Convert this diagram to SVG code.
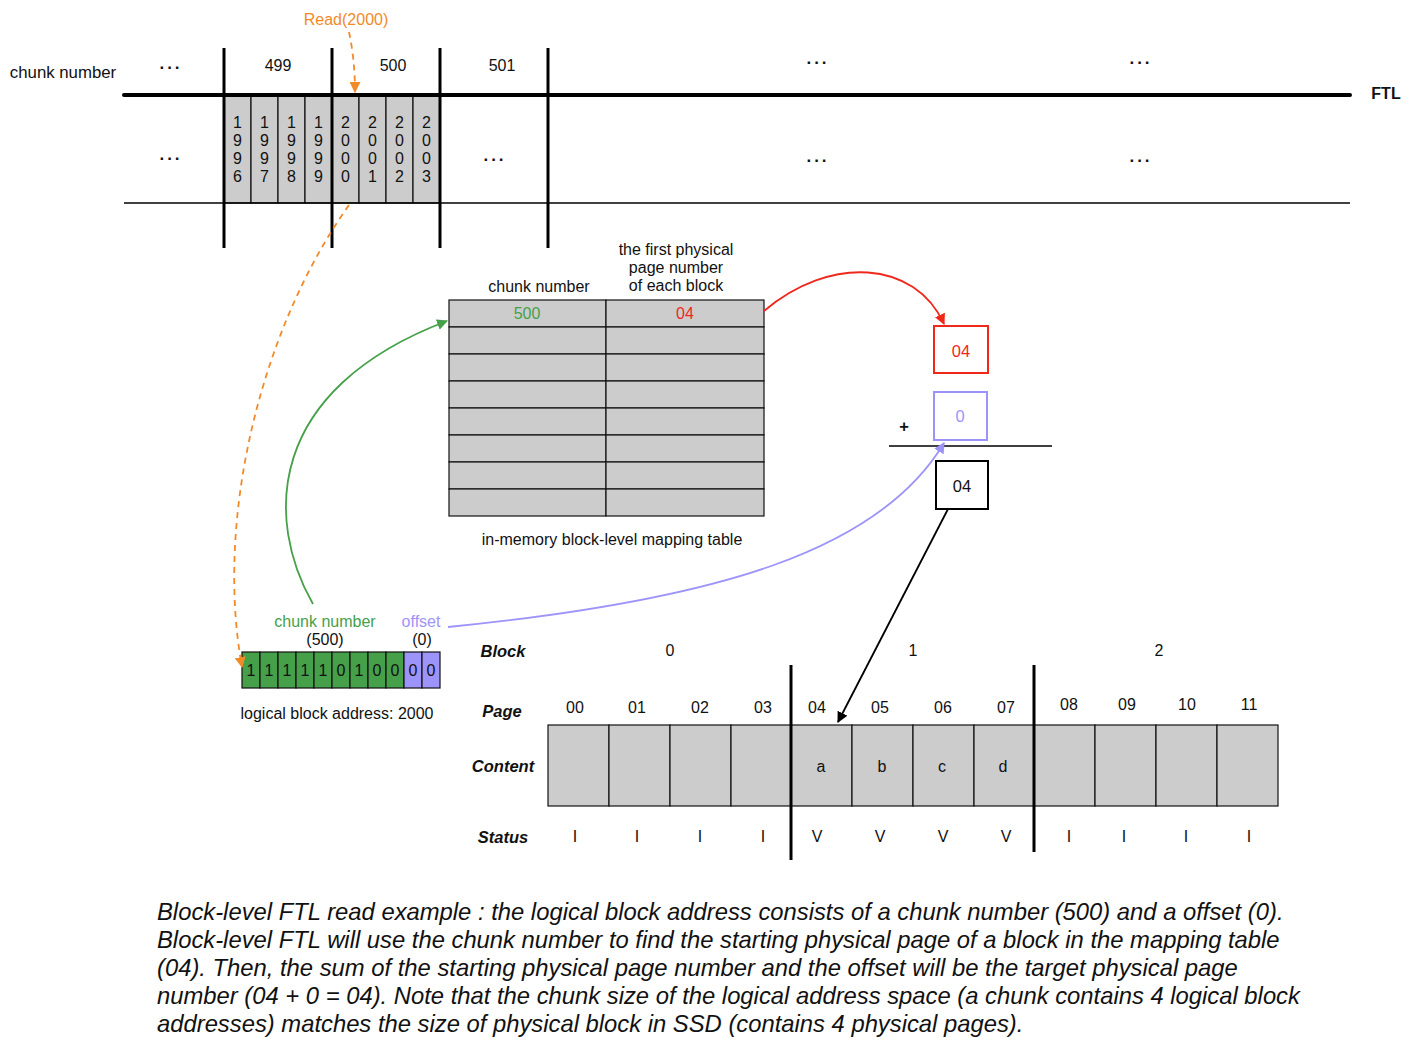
<svg xmlns="http://www.w3.org/2000/svg" width="1411" height="1048" viewBox="0 0 1411 1048">
<style>
text{font-family:"Liberation Sans",Arial,sans-serif;fill:#111;}
.t15{font-size:16px;text-anchor:middle;}
.t16{font-size:16.5px;text-anchor:middle;}
.bi{font-size:16.5px;font-weight:bold;font-style:italic;text-anchor:middle;}
.dots{font-size:17px;font-weight:bold;text-anchor:middle;letter-spacing:3px;}
.cell{fill:#cccccc;stroke:#111;stroke-width:1.2;}
.thick{stroke:#000;stroke-width:3;}
.cap{font-size:23.8px;font-style:italic;}
</style>
<defs>
<marker id="aO" viewBox="0 0 10 10" refX="9" refY="5" markerWidth="11" markerHeight="11" markerUnits="userSpaceOnUse" orient="auto"><path d="M0,0 L10,5 L0,10 z" fill="#F28A2A"/></marker>
<marker id="aR" viewBox="0 0 10 10" refX="9" refY="5" markerWidth="11" markerHeight="11" markerUnits="userSpaceOnUse" orient="auto"><path d="M0,0 L10,5 L0,10 z" fill="#F0281C"/></marker>
<marker id="aG" viewBox="0 0 10 10" refX="9" refY="5" markerWidth="11" markerHeight="11" markerUnits="userSpaceOnUse" orient="auto"><path d="M0,0 L10,5 L0,10 z" fill="#46A049"/></marker>
<marker id="aP" viewBox="0 0 10 10" refX="9" refY="5" markerWidth="11" markerHeight="11" markerUnits="userSpaceOnUse" orient="auto"><path d="M0,0 L10,5 L0,10 z" fill="#9D94FA"/></marker>
<marker id="aK" viewBox="0 0 10 10" refX="9" refY="5" markerWidth="11" markerHeight="11" markerUnits="userSpaceOnUse" orient="auto"><path d="M0,0 L10,5 L0,10 z" fill="#000"/></marker>
</defs>
<rect width="1411" height="1048" fill="#fff"/>

<g id="ftl-strip">
<text x="63" y="78" style="font-size:16.8px;text-anchor:middle">chunk number</text>
<g class="cell">
<rect x="224" y="95" width="27" height="108"/><rect x="251" y="95" width="27" height="108"/>
<rect x="278" y="95" width="27" height="108"/><rect x="305" y="95" width="27" height="108"/>
<rect x="332" y="95" width="27" height="108"/><rect x="359" y="95" width="27" height="108"/>
<rect x="386" y="95" width="27" height="108"/><rect x="413" y="95" width="27" height="108"/>
</g>
<line x1="124" y1="95" x2="1350" y2="95" stroke="#000" stroke-width="4" stroke-linecap="round"/>
<line x1="124" y1="203" x2="1350" y2="203" stroke="#000" stroke-width="1.5"/>
<line x1="224" y1="48" x2="224" y2="248" class="thick"/>
<line x1="332" y1="48" x2="332" y2="248" class="thick"/>
<line x1="440" y1="48" x2="440" y2="248" class="thick"/>
<line x1="548" y1="48" x2="548" y2="248" class="thick"/>
<text x="278" y="71" class="t15">499</text>
<text x="393" y="71" class="t15">500</text>
<text x="502" y="71" class="t15">501</text>
<text x="1386" y="99" class="t15" style="font-weight:bold">FTL</text>
<text x="171" y="69" class="dots">...</text>
<text x="171" y="160" class="dots">...</text>
<text x="495" y="161" class="dots">...</text>
<text x="818" y="64" class="dots">...</text>
<text x="818" y="162" class="dots">...</text>
<text x="1141" y="64" class="dots">...</text>
<text x="1141" y="162" class="dots">...</text>
<g class="t15">
<text x="237.5" y="128">1</text><text x="237.5" y="146">9</text><text x="237.5" y="164">9</text><text x="237.5" y="182">6</text>
<text x="264.5" y="128">1</text><text x="264.5" y="146">9</text><text x="264.5" y="164">9</text><text x="264.5" y="182">7</text>
<text x="291.5" y="128">1</text><text x="291.5" y="146">9</text><text x="291.5" y="164">9</text><text x="291.5" y="182">8</text>
<text x="318.5" y="128">1</text><text x="318.5" y="146">9</text><text x="318.5" y="164">9</text><text x="318.5" y="182">9</text>
<text x="345.5" y="128">2</text><text x="345.5" y="146">0</text><text x="345.5" y="164">0</text><text x="345.5" y="182">0</text>
<text x="372.5" y="128">2</text><text x="372.5" y="146">0</text><text x="372.5" y="164">0</text><text x="372.5" y="182">1</text>
<text x="399.5" y="128">2</text><text x="399.5" y="146">0</text><text x="399.5" y="164">0</text><text x="399.5" y="182">2</text>
<text x="426.5" y="128">2</text><text x="426.5" y="146">0</text><text x="426.5" y="164">0</text><text x="426.5" y="182">3</text>
</g>
<text x="346" y="25" class="t15" style="fill:#F28A2A">Read(2000)</text>
</g>

<g id="mapping-table">
<text x="539" y="292" class="t15">chunk number</text>
<text x="676" y="255" class="t15">the first physical</text>
<text x="676" y="273" class="t15">page number</text>
<text x="676" y="291" class="t15">of each block</text>
<g class="cell">
<rect x="449" y="300" width="157" height="27"/><rect x="606" y="300" width="158" height="27"/>
<rect x="449" y="327" width="157" height="27"/><rect x="606" y="327" width="158" height="27"/>
<rect x="449" y="354" width="157" height="27"/><rect x="606" y="354" width="158" height="27"/>
<rect x="449" y="381" width="157" height="27"/><rect x="606" y="381" width="158" height="27"/>
<rect x="449" y="408" width="157" height="27"/><rect x="606" y="408" width="158" height="27"/>
<rect x="449" y="435" width="157" height="27"/><rect x="606" y="435" width="158" height="27"/>
<rect x="449" y="462" width="157" height="27"/><rect x="606" y="462" width="158" height="27"/>
<rect x="449" y="489" width="157" height="27"/><rect x="606" y="489" width="158" height="27"/>
</g>
<text x="527" y="319" class="t15" style="fill:#46A049">500</text>
<text x="685" y="319" class="t15" style="fill:#F0281C">04</text>
<text x="612" y="545" class="t15">in-memory block-level mapping table</text>
</g>

<g id="sum">
<rect x="934" y="326" width="54" height="47" fill="#fff" stroke="#F0281C" stroke-width="2"/>
<text x="961" y="357" class="t16" style="fill:#F0281C">04</text>
<rect x="934" y="392" width="53" height="48" fill="#fff" stroke="#9D94FA" stroke-width="2"/>
<text x="960" y="422" class="t16" style="fill:#9D94FA">0</text>
<text x="904" y="432" class="t16" style="font-weight:bold">+</text>
<line x1="889" y1="446" x2="1052" y2="446" stroke="#000" stroke-width="1.5"/>
<rect x="936" y="461" width="52" height="48" fill="#fff" stroke="#000" stroke-width="2"/>
<text x="962" y="492" class="t16">04</text>
</g>

<g id="lba">
<g stroke="#111" stroke-width="1.2">
<rect x="242" y="652" width="18" height="36" fill="#46A049"/><rect x="260" y="652" width="18" height="36" fill="#46A049"/>
<rect x="278" y="652" width="18" height="36" fill="#46A049"/><rect x="296" y="652" width="18" height="36" fill="#46A049"/>
<rect x="314" y="652" width="18" height="36" fill="#46A049"/><rect x="332" y="652" width="18" height="36" fill="#46A049"/>
<rect x="350" y="652" width="18" height="36" fill="#46A049"/><rect x="368" y="652" width="18" height="36" fill="#46A049"/>
<rect x="386" y="652" width="18" height="36" fill="#46A049"/>
<rect x="404" y="652" width="18" height="36" fill="#9D94FA"/><rect x="422" y="652" width="18" height="36" fill="#9D94FA"/>
</g>
<g class="t15">
<text x="251" y="676">1</text><text x="269" y="676">1</text><text x="287" y="676">1</text><text x="305" y="676">1</text>
<text x="323" y="676">1</text><text x="341" y="676">0</text><text x="359" y="676">1</text><text x="377" y="676">0</text>
<text x="395" y="676">0</text><text x="413" y="676">0</text><text x="431" y="676">0</text>
</g>
<text x="325" y="627" class="t15" style="fill:#46A049">chunk number</text>
<text x="325" y="645" class="t15">(500)</text>
<text x="421" y="627" class="t15" style="fill:#9D94FA">offset</text>
<text x="422" y="645" class="t15">(0)</text>
<text x="337" y="719" class="t15">logical block address: 2000</text>
</g>

<g id="ssd">
<text x="503" y="657" class="bi">Block</text>
<text x="502" y="717" class="bi">Page</text>
<text x="503" y="772" class="bi">Content</text>
<text x="503" y="843" class="bi">Status</text>
<text x="670" y="656" class="t15">0</text>
<text x="913" y="656" class="t15">1</text>
<text x="1159" y="656" class="t15">2</text>
<g class="cell">
<rect x="548" y="725" width="61" height="81"/><rect x="609" y="725" width="61" height="81"/>
<rect x="670" y="725" width="61" height="81"/><rect x="731" y="725" width="60" height="81"/>
<rect x="791" y="725" width="61" height="81"/><rect x="852" y="725" width="61" height="81"/>
<rect x="913" y="725" width="61" height="81"/><rect x="974" y="725" width="60" height="81"/>
<rect x="1034" y="725" width="61" height="81"/><rect x="1095" y="725" width="61" height="81"/>
<rect x="1156" y="725" width="61" height="81"/><rect x="1217" y="725" width="61" height="81"/>
</g>
<line x1="791" y1="665" x2="791" y2="860" class="thick"/>
<line x1="1034" y1="665" x2="1034" y2="852" class="thick"/>
<g class="t15">
<text x="575" y="713">00</text><text x="637" y="713">01</text><text x="700" y="713">02</text><text x="763" y="713">03</text>
<text x="817" y="713">04</text><text x="880" y="713">05</text><text x="943" y="713">06</text><text x="1006" y="713">07</text>
<text x="1069" y="710">08</text><text x="1127" y="710">09</text><text x="1187" y="710">10</text><text x="1249" y="710">11</text>
<text x="821" y="772">a</text><text x="882" y="772">b</text><text x="942" y="772">c</text><text x="1003" y="772">d</text>
<text x="575" y="842">I</text><text x="637" y="842">I</text><text x="700" y="842">I</text><text x="763" y="842">I</text>
<text x="817" y="842">V</text><text x="880" y="842">V</text><text x="943" y="842">V</text><text x="1006" y="842">V</text>
<text x="1069" y="842">I</text><text x="1124" y="842">I</text><text x="1186" y="842">I</text><text x="1249" y="842">I</text>
</g>
</g>

<g id="connectors" fill="none">
<path d="M349 32 Q355 60 355 92" stroke="#F28A2A" stroke-width="1.8" stroke-dasharray="6,5" marker-end="url(#aO)"/>
<path d="M349 205 C260 330 215 520 242 667" stroke="#F28A2A" stroke-width="1.8" stroke-dasharray="6,5" marker-end="url(#aO)"/>
<path d="M313 604 C265 520 265 390 447 321" stroke="#46A049" stroke-width="1.8" marker-end="url(#aG)"/>
<path d="M448 627 C720 600 880 550 944 443" stroke="#9D94FA" stroke-width="1.8" marker-end="url(#aP)"/>
<path d="M764 311 C830 255 915 260 944 324" stroke="#F0281C" stroke-width="1.8" marker-end="url(#aR)"/>
<path d="M948 509 L838 722" stroke="#000" stroke-width="1.8" marker-end="url(#aK)"/>
</g>

<g id="caption">
<text x="157" y="920" class="cap">Block-level FTL read example : the logical block address consists of a chunk number (500) and a offset (0).</text>
<text x="157" y="948" class="cap">Block-level FTL will use the chunk number to find the starting physical page of a block in the mapping table</text>
<text x="157" y="976" class="cap">(04). Then, the sum of the starting physical page number and the offset will be the target physical page</text>
<text x="157" y="1004" class="cap">number (04 + 0 = 04). Note that the chunk size of the logical address space (a chunk contains 4 logical block</text>
<text x="157" y="1032" class="cap">addresses) matches the size of physical block in SSD (contains 4 physical pages).</text>
</g>
</svg>
